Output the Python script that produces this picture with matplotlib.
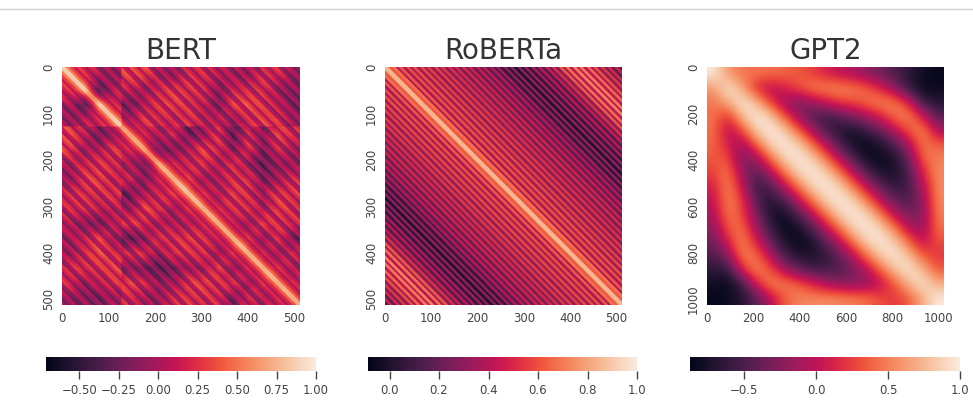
import numpy as np
import matplotlib
matplotlib.use('Agg')
import matplotlib.pyplot as plt
from matplotlib.lines import Line2D
import seaborn as sns

titles = ['BERT', 'RoBERTa', 'GPT2']

### === Values ===
# upper triangles, rows are read left to right from the main diagonal
# BERT: 32 tokens per cell
bert_blocks = [
    [.20, .15, -.05, -.10, .20, .20, -.05, -.10, .10, .10, .00, -.05, -.10, .10, .10, -.10],
    [.20, -.35, .00, .05, -.10, .10, .15, .15, .10, -.15, .05, .10, .10, -.10, -.15],
    [.20, .10, -.25, .00, .15, .20, .10, .05, -.20, .20, .25, .15, .00, -.20],
    [.20, -.05, .15, .10, .05, .15, .00, .05, -.10, .10, .20, .15, -.10],
    [.00, .10, -.05, .10, -.25, -.10, .15, -.30, .10, -.15, .20, .10],
    [.00, -.20, -.20, .00, .20, .10, -.15, .15, -.20, .10, -.05],
    [.05, .10, .05, .15, -.05, .15, -.10, -.30, -.10, -.10],
    [.05, .20, -.10, .00, .10, .15, -.20, -.05, .10],
    [.10, .15, -.05, .20, .10, -.05, .15, .15],
    [.05, .10, .10, .15, -.05, .20, .10],
    [.05, .05, -.10, .20, .10, .10],
    [.05, .15, -.15, .15, -.20],
    [.05, .10, -.10, .10],
    [.05, .15, -.05],
    [.05, .10],
    [.05],
]
# added on each diagonal, 8 tokens per entry
bert_stripes = [
    .66, .34, .14, -.02, .16, .04, -.12, .14, .20, -.08, -.14, .18, .07, -.14, .14, .20,
    -.06, -.16, .19, .08, -.15, .12, .22, -.05, -.16, .18, .10, -.16, .08, .20, -.08, -.14,
    .20, .07, -.15, .12, .19, -.08, -.16, .20, .08, -.14, .14, .18, -.06, -.18, .20, .10,
    -.12, .14, .22, -.05, -.16, .18, .07, -.14, .12, .20, -.08, -.14, .18, .08, -.12, .12,
]

# one value per diagonal, 7.5 tokens per entry
roberta_stripes = [
    .85, .62, .68, .40, .62, .36, .60, .36, .60, .34, .58, .32, .56, .30, .56, .30,
    .54, .28, .52, .26, .50, .24, .50, .22, .48, .20, .46, .18, .44, .16, .40, .12,
    .36, .06, .32, .02, .30, .00, .30, .02, .34, .06, .38, .10, .42, .14, .46, .20,
    .52, .28, .62, .38, .68, .42, .72, .44, .70, .42, .66, .36, .60, .30, .54, .22,
    .50, .18, .48, .14,
]

gpt2_values = [
    [1.0, .60, .45, .45, .45, .40, .35, .25, .10, .00, -.10, -.22, -.35, -.50, -.65, -.78, -.85],
    [1.0, .70, .15, -.05, .10, .30, .50, .55, .55, .50, .35, .10, -.25, -.65, -.85, -.80],
    [1.0, .80, .25, -.15, -.30, -.15, .05, .25, .30, .45, .55, .50, .10, -.60, -.70],
    [1.0, .90, .35, -.15, -.45, -.60, -.45, -.25, -.10, .15, .45, .55, .05, -.45],
    [1.0, .90, .40, -.10, -.50, -.70, -.75, -.55, -.35, .00, .35, .55, -.10],
    [1.0, .90, .45, -.05, -.50, -.80, -.85, -.70, -.50, -.05, .50, .35],
    [1.0, .90, .45, -.05, -.50, -.80, -.85, -.70, -.35, .40, .50],
    [1.0, .90, .45, -.05, -.50, -.75, -.75, -.50, .15, .55],
    [1.0, .90, .45, -.05, -.45, -.65, -.55, -.05, .55],
    [1.0, .90, .45, -.05, -.40, -.50, -.20, .55],
    [1.0, .90, .45, -.05, -.30, -.25, .50],
    [1.0, .90, .45, -.05, -.20, .45],
    [1.0, .85, .40, .00, .30],
    [1.0, .80, .35, .20],
    [1.0, .75, .35],
    [1.0, .70],
    [1.0],
]

sizes = [512, 512, 1024]
vmins = [-0.71, -0.087, -0.875]
xticks = [[0, 100, 200, 300, 400, 500], [0, 100, 200, 300, 400, 500], [0, 200, 400, 600, 800, 1000]]
cbar_ticks = [[-0.5, -0.25, 0, 0.25, 0.5, 0.75, 1], [0, 0.2, 0.4, 0.6, 0.8, 1], [-0.5, 0, 0.5, 1]]
cbar_labels = [['\u22120.50', '\u22120.25', '0.00', '0.25', '0.50', '0.75', '1.00'],
               ['0.0', '0.2', '0.4', '0.6', '0.8', '1.0'],
               ['\u22120.5', '0.0', '0.5', '1.0']]

# pixel boxes in the 973x412 figure: left, top, width, height
heat_boxes = [(62, 67, 238, 238), (385, 67, 237, 238), (707, 67, 237, 238)]
cbar_boxes = [(46, 357, 270, 14), (368, 357, 269, 14), (690, 357, 270, 14)]


def mirror(upper):
    # fill the lower triangle from the rows typed above
    n = len(upper)
    out = np.zeros((n, n))
    for i, row in enumerate(upper):
        out[i, i:] = row
        out[i:, i] = row
    return out


def soften(a, width, split):
    # display blur of the coarse cells, kept apart on both sides of the first block edge
    kernel = np.ones(width) / width

    def run(line):
        line = np.pad(line, width, mode='edge')
        return np.convolve(line, kernel, mode='same')[width:-width]

    for axis in (0, 1):
        a = np.concatenate([np.apply_along_axis(run, axis, part)
                            for part in np.split(a, [split], axis=axis)], axis=axis)
    return a


def add_stripes(base, stripes, bin_width, cell=2):
    # stack the per-diagonal values on top of the coarse cells
    n = 512 // cell
    idx = np.arange(n) * cell
    offset = np.abs(idx[:, None] - idx[None, :])
    which = np.minimum((offset / bin_width).astype(int), len(stripes) - 1)
    return base + np.array(stripes)[which]


def to_axes(box):
    left, top, width, height = box
    return [left / 973, 1 - (top + height) / 412, width / 973, height / 412]


bert_base = np.repeat(np.repeat(mirror(bert_blocks), 16, axis=0), 16, axis=1)
matrices = [
    add_stripes(soften(bert_base, 16, 64), bert_stripes, 8),
    add_stripes(np.zeros((256, 256)), roberta_stripes, 7.5),
    mirror(gpt2_values),
]
smoothing = ['bilinear', 'bilinear', 'bicubic']

cmap = sns.color_palette('rocket', as_cmap=True)
fig = plt.figure(figsize=(9.73, 4.12), dpi=100)
fig.add_artist(Line2D([0, 1], [1 - 9 / 412, 1 - 9 / 412], color='#d0d0d0', linewidth=1))

for k in range(3):
    ax = fig.add_axes(to_axes(heat_boxes[k]))
    im = ax.imshow(np.clip(matrices[k], vmins[k], 1), cmap=cmap, vmin=vmins[k], vmax=1,
                   extent=(0, sizes[k], sizes[k], 0), aspect='auto', interpolation=smoothing[k])
    for side in ax.spines.values():
        side.set_visible(False)
    ax.set_title(titles[k], fontsize=20, color='#333333', pad=6)
    ax.set_xticks(xticks[k])
    ax.set_yticks(xticks[k])
    ax.tick_params(length=0, labelsize=8.5, labelcolor='#444444', pad=5)
    plt.setp(ax.get_yticklabels(), rotation=90, va='center')

    cax = fig.add_axes(to_axes(cbar_boxes[k]))
    cbar = fig.colorbar(im, cax=cax, orientation='horizontal')
    cbar.outline.set_visible(False)
    cbar.set_ticks(cbar_ticks[k])
    cbar.set_ticklabels(cbar_labels[k])
    cax.tick_params(length=6, width=1, labelsize=8.5, labelcolor='#444444', color='#444444', pad=3)

fig.savefig('out.png', dpi=100)
